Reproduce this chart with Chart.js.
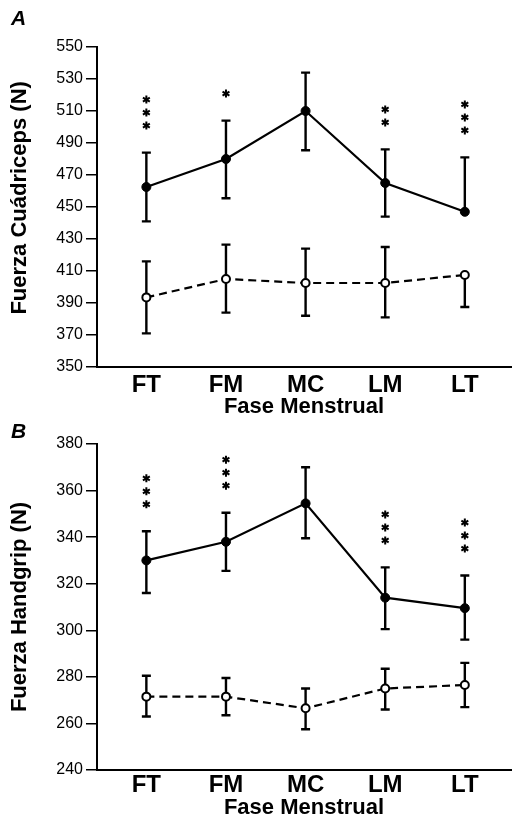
<!DOCTYPE html>
<html>
<head>
<meta charset="utf-8">
<script src="https://cdn.jsdelivr.net/npm/chart.js@4.4.1/dist/chart.umd.min.js"></script>
<style>
    body { margin: 0; background: #fff; }
    canvas { display: block; }
</style>
</head>
<body>
<canvas id="chartA" width="517" height="420"></canvas>
<canvas id="chartB" width="517" height="399"></canvas>
<script>
const categories = ['FT', 'FM', 'MC', 'LM', 'LT'];

// panel A - fuerza cuadriceps
const quadTicks = [350, 550, 20];
const quadSolid = [462.5, 480, 510, 465, 447];
const quadSolidTop = [484, 504, 534, 486, 481];
const quadSolidBottom = [441, 455.5, 485.5, 444, null];
const quadOpen = [393.5, 405, 402.5, 402.5, 407.5];
const quadOpenTop = [416, 426.5, 424, 425, null];
const quadOpenBottom = [371, 384, 382, 381, 387.5];
const quadStars = [3, 1, 0, 2, 3];

// panel B - fuerza handgrip
const gripTicks = [240, 380, 20];
const gripSolid = [330, 338, 354.5, 314, 309.5];
const gripSolidTop = [342.5, 350.5, 370, 327, 323.5];
const gripSolidBottom = [316, 325.5, 339.5, 300.5, 296];
const gripOpen = [271.5, 271.5, 266.5, 275, 276.5];
const gripOpenTop = [280.5, 279.5, 275, 283.5, 286];
const gripOpenBottom = [263, 263.5, 257.5, 266, 267];
const gripStars = [3, 3, 0, 3, 3];

const FONT = "'Liberation Sans', Arial, sans-serif";

function drawStar(ctx, cx, cy) {
    const r = 4;
    ctx.beginPath();
    for (let k = 0; k < 3; k++) {
        const a = Math.PI / 2 + k * Math.PI / 3;
        ctx.moveTo(cx - r * Math.cos(a), cy - r * Math.sin(a));
        ctx.lineTo(cx + r * Math.cos(a), cy + r * Math.sin(a));
    }
    ctx.stroke();
}

function panelPlugin(letter, letterY, bars, solidTop, stars) {
    return {
        id: 'panel' + letter,
        beforeDatasetsDraw(chart) {
            const ctx = chart.ctx;
            const x = chart.scales.x;
            const y = chart.scales.y;
            ctx.save();
            ctx.strokeStyle = '#000';
            ctx.lineWidth = 2.4;
            bars.forEach(function(b) {
                b.mean.forEach(function(m, i) {
                    const px = x.getPixelForValue(i);
                    const hi = b.top[i] == null ? m : b.top[i];
                    const lo = b.bottom[i] == null ? m : b.bottom[i];
                    ctx.beginPath();
                    ctx.moveTo(px, y.getPixelForValue(hi));
                    ctx.lineTo(px, y.getPixelForValue(lo));
                    if (b.top[i] != null) {
                        ctx.moveTo(px - 4.5, y.getPixelForValue(hi));
                        ctx.lineTo(px + 4.5, y.getPixelForValue(hi));
                    }
                    if (b.bottom[i] != null) {
                        ctx.moveTo(px - 4.5, y.getPixelForValue(lo));
                        ctx.lineTo(px + 4.5, y.getPixelForValue(lo));
                    }
                    ctx.stroke();
                });
            });
            ctx.restore();
        },
        afterDraw(chart) {
            const ctx = chart.ctx;
            const x = chart.scales.x;
            const y = chart.scales.y;
            ctx.save();
            ctx.strokeStyle = '#000';
            ctx.lineWidth = 2;
            stars.forEach(function(n, i) {
                const px = x.getPixelForValue(i);
                const base = y.getPixelForValue(solidTop[i]) - 27;
                for (let k = 0; k < n; k++) {
                    drawStar(ctx, px, base - k * 13);
                }
            });
            ctx.fillStyle = '#000';
            ctx.font = 'italic bold 21px ' + FONT;
            ctx.textBaseline = 'alphabetic';
            ctx.fillText(letter, 11, letterY);
            ctx.restore();
        }
    };
}

function makeChart(id, cfg) {
    const solid = {
        data: cfg.solid.map((v, i) => ({ x: i, y: v })),
        borderColor: '#000',
        borderWidth: 2.2,
        pointRadius: 4.5,
        pointBackgroundColor: '#000',
        pointBorderColor: '#000',
        pointBorderWidth: 1
    };
    const open = {
        data: cfg.open.map((v, i) => ({ x: i, y: v })),
        borderColor: '#000',
        borderWidth: 2.2,
        borderDash: [8, 5],
        pointRadius: 4,
        pointBackgroundColor: '#fff',
        pointBorderColor: '#000',
        pointBorderWidth: 2
    };

    return new Chart(document.getElementById(id), {
        type: 'line',
        data: { datasets: [open, solid] },
        options: {
            responsive: false,
            animation: false,
            devicePixelRatio: 1,
            layout: { padding: { top: cfg.top, left: 0, right: 0, bottom: 0 } },
            plugins: { legend: { display: false }, tooltip: { enabled: false } },
            scales: {
                x: {
                    type: 'linear',
                    min: -0.62,
                    max: 4.58,
                    afterBuildTicks: function(s) {
                        s.ticks = categories.map((c, i) => ({ value: i }));
                    },
                    afterFit: function(s) { s.height = cfg.xHeight; },
                    ticks: {
                        callback: v => categories[v],
                        color: '#000',
                        font: { family: FONT, size: 24, weight: 'bold' },
                        padding: cfg.labelPad,
                        autoSkip: false,
                        maxRotation: 0
                    },
                    grid: { display: false, drawTicks: false, tickLength: 0 },
                    border: { display: true, color: '#000', width: 2 },
                    title: {
                        display: true,
                        text: 'Fase Menstrual',
                        color: '#000',
                        font: { family: FONT, size: 22, weight: 'bold', lineHeight: 1 },
                        padding: { top: 0, bottom: cfg.titlePad }
                    }
                },
                y: {
                    min: cfg.ticks[0],
                    max: cfg.ticks[1],
                    afterFit: function(s) { s.width = 97; },
                    ticks: {
                        stepSize: cfg.ticks[2],
                        color: '#000',
                        font: { family: FONT, size: 16 },
                        padding: 3
                    },
                    grid: { drawOnChartArea: false, tickLength: 11, color: '#000', lineWidth: 1.5 },
                    border: { display: true, color: '#000', width: 2 },
                    title: {
                        display: true,
                        text: cfg.yTitle,
                        color: '#000',
                        font: { family: FONT, size: 22, weight: 'bold', lineHeight: 1 },
                        padding: { top: 9, bottom: 0 }
                    }
                }
            }
        },
        plugins: [panelPlugin(cfg.letter, cfg.letterY, [
            { mean: cfg.solid, top: cfg.solidTop, bottom: cfg.solidBottom },
            { mean: cfg.open, top: cfg.openTop, bottom: cfg.openBottom }
        ], cfg.solidTop, cfg.stars)]
    });
}

makeChart('chartA', {
    letter: 'A', letterY: 25, top: 47, xHeight: 53, labelPad: 4, titlePad: 2,
    ticks: quadTicks, yTitle: '\u00a0\u00a0\u00a0Fuerza Cuádriceps (N)',
    solid: quadSolid, solidTop: quadSolidTop, solidBottom: quadSolidBottom,
    open: quadOpen, openTop: quadOpenTop, openBottom: quadOpenBottom,
    stars: quadStars
});

makeChart('chartB', {
    letter: 'B', letterY: 18, top: 24, xHeight: 49, labelPad: 1, titlePad: 0,
    ticks: gripTicks, yTitle: 'Fuerza Handgrip (N)',
    solid: gripSolid, solidTop: gripSolidTop, solidBottom: gripSolidBottom,
    open: gripOpen, openTop: gripOpenTop, openBottom: gripOpenBottom,
    stars: gripStars
});
</script>
</body>
</html>
